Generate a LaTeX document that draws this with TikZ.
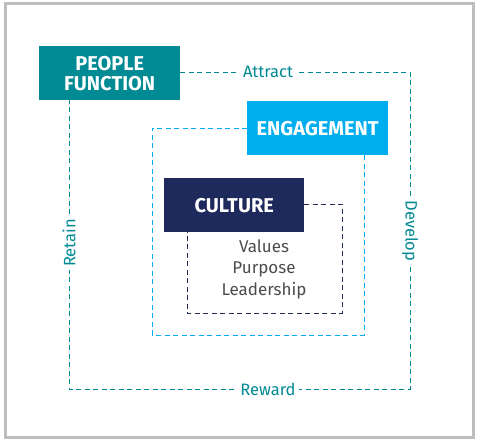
\documentclass[tikz,border=0pt]{standalone}
\usepackage{fontspec}
\setmainfont{Fira Sans}
\begin{document}
\begin{tikzpicture}[x=1pt,y=-1pt,
  box/.style={draw=none,anchor=north west,inner sep=0pt,text=white,font=\fontsize{20}{22}\selectfont\bfseries,align=center},
  lbl/.style={fill=white,inner sep=3pt,text=teal1,font=\fontsize{16.5}{18}\selectfont},
  dsh/.style={dash pattern=on 5pt off 3.5pt,line width=0.9pt}
]
\definecolor{teal1}{HTML}{008A94}
\definecolor{sky}{HTML}{00AEEF}
\definecolor{navy}{HTML}{1F2A5C}
\definecolor{framegray}{HTML}{BDBDC1}
\useasboundingbox (0,0) rectangle (477,443);
\draw[framegray,line width=3pt] (5,4) rectangle (473,438);
% boxes
\node[box,fill=teal1,minimum width=141pt,minimum height=54pt] (pf) at (39,46) {PEOPLE\\[-2pt]FUNCTION};
\node[box,fill=sky,minimum width=141pt,minimum height=54pt] (eng) at (247,101) {ENGAGEMENT};
\node[box,fill=navy,minimum width=140pt,minimum height=54pt] (cul) at (164,178) {CULTURE};
% coordinates
\coordinate (o1) at (410,72);
\coordinate (o2) at (410,389);
\coordinate (o3) at (69,389);
\coordinate (o4) at (69,100);
\coordinate (m1) at (152,128);
\coordinate (m2) at (152,335);
\coordinate (m3) at (364,335);
\coordinate (m4) at (364,155);
\coordinate (i1) at (342,204);
\coordinate (i2) at (342,313);
\coordinate (i3) at (187,313);
\coordinate (i4) at (187,232);
% dashed loops
\draw[dsh,teal1] (pf.east |- o1) -- (o1) -- (o2) -- (o3) -- (o4);
\draw[dsh,sky] (eng.west |- m1) -- (m1) -- (m2) -- (m3) -- (m4);
\draw[dsh,navy] (cul.east |- i1) -- (i1) -- (i2) -- (i3) -- (i4);
% labels
\node[lbl] (attract) at (268,72) {Attract};
\node[lbl] (reward) at (268,389) {Reward};
\node[lbl,rotate=90] (retain) at (69,243) {Retain};
\node[lbl,rotate=-90] (develop) at (410,231) {Develop};
\node[align=center,text=black!70,font=\fontsize{17}{21.5}\selectfont] (vals) at (264,269) {Values\\Purpose\\Leadership};
\end{tikzpicture}
\end{document}
